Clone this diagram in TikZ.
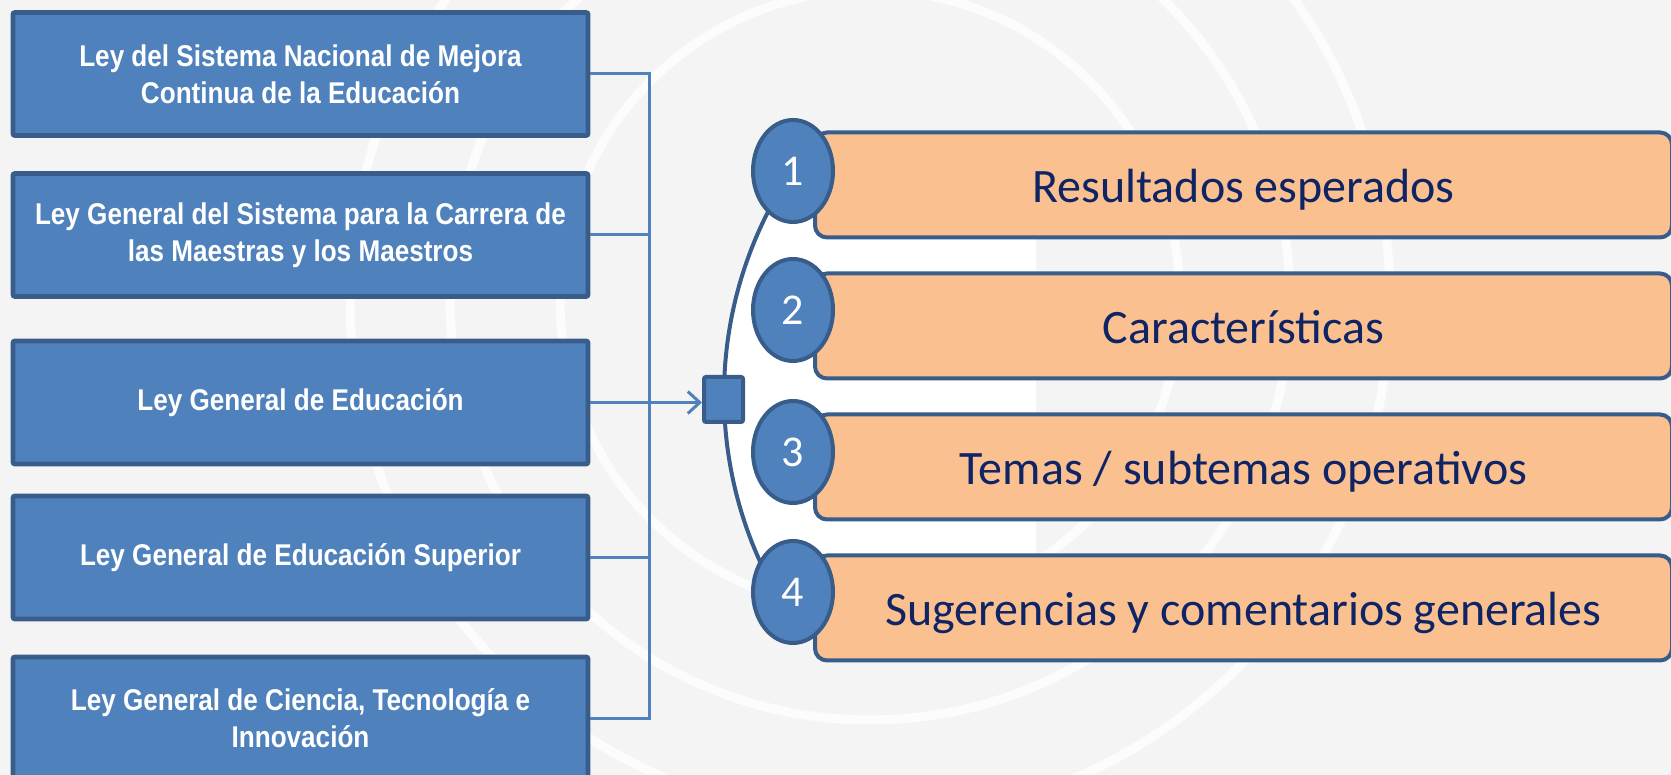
\documentclass[tikz,border=0pt]{standalone}
\usepackage{fontspec}
\setmainfont{Carlito}
\newfontfamily\lawfont[FakeStretch=0.87]{Liberation Sans}
\usepackage{tikz}
\usetikzlibrary{shapes.geometric,arrows.meta}
\definecolor{lawblue}{HTML}{4F81BD}
\definecolor{edgeblue}{HTML}{385D8A}
\definecolor{itemorange}{HTML}{FAC090}
\definecolor{itemtext}{HTML}{0F2464}
\definecolor{slidegray}{HTML}{F4F4F4}
\tikzstyle{lawbox} = [rectangle, font=\lawfont\bfseries\fontsize{15}{18.5}\selectfont, rounded corners=1pt, minimum width=287.5pt, minimum height=61.5pt, align=center, draw=edgeblue, line width=2.4pt, fill=lawblue, text=white]
\tikzstyle{itembox} = [rectangle, font=\fontsize{24}{28}\selectfont, rounded corners=6pt, minimum width=428.5pt, minimum height=52.5pt, text height=20pt, text depth=2pt, draw=edgeblue, line width=2pt, fill=itemorange, text=itemtext]
\tikzstyle{numdot} = [ellipse, font=\fontsize{22}{26}\selectfont, minimum width=40pt, minimum height=51pt, inner sep=0pt, draw=edgeblue, line width=2pt, fill=lawblue, text=white]
\tikzstyle{hubsquare} = [rectangle, rounded corners=1pt, minimum width=19.5pt, minimum height=22.5pt, inner sep=0pt, draw=edgeblue, line width=2pt, fill=lawblue]
\tikzstyle{link} = [draw=lawblue, line width=1.5pt]
\tikzstyle{arrow} = [link, -{Straight Barb[length=6pt,width=11pt]}]
\tikzstyle{bgring} = [draw=white, line width=4.5pt, opacity=0.75]
\tikzstyle{curve} = [draw=edgeblue, line width=2pt]

\begin{document}
\begin{tikzpicture}[x=0.5pt, y=0.5pt, node distance=80.5pt]
\clip (0,0) rectangle (1671,775);
\fill[slidegray] (0,0) rectangle (1671,775);
\coordinate (ringc) at (870,475);
\draw[bgring] (ringc) circle[radius=155pt];
\draw[bgring] (ringc) circle[radius=210pt];
\draw[bgring] (ringc) circle[radius=260pt];

\coordinate (arcc) at (1127,380);
\begin{scope}
\clip (arcc) circle[radius=201.5pt];
\fill[white] (700,190) rectangle (1036,570);
\end{scope}
\draw[curve] (arcc) ++(153:201.5pt) arc[start angle=153, end angle=207, radius=201.5pt];

\node (law1) [lawbox] at (300.5,701) {Ley del Sistema Nacional de Mejora\\Continua de la Educación};
\node (law2) [lawbox, below of=law1] {Ley General del Sistema para la Carrera de\\las Maestras y los Maestros};
\node (law3) [lawbox, below of=law2, yshift=-3.25pt] {Ley General de Educación};
\node (law4) [lawbox, below of=law3, yshift=3pt] {Ley General de Educación Superior};
\node (law5) [lawbox, below of=law4] {Ley General de Ciencia, Tecnología e\\Innovación};

\node (item1) [itembox] at (1243.5,590) {Resultados esperados};
\node (item2) [itembox, below of=item1, node distance=70.5pt] {Características};
\node (item3) [itembox, below of=item2, node distance=70.5pt] {Temas / subtemas operativos};
\node (item4) [itembox, below of=item3, node distance=70.5pt] {Sugerencias y comentarios generales};

\node (num1) [numdot] at ([xshift=-10pt, yshift=7pt]item1.west) {1};
\node (num2) [numdot] at ([xshift=-10pt, yshift=8pt]item2.west) {2};
\node (num3) [numdot] at ([xshift=-10pt, yshift=7.5pt]item3.west) {3};
\node (num4) [numdot] at ([xshift=-10pt, yshift=8pt]item4.west) {4};

\node (hub) [hubsquare] at (723.5,375.5) {};

\draw[link] (law1.east) -- ++(29.5pt,0) coordinate (bustop) |- (law5.east);
\draw[link] (law2.east) -- (law2.east -| bustop);
\draw[link] (law4.east) -- (law4.east -| bustop);
\draw[arrow] (law3.east) -- (law3.east -| hub.west);
\end{tikzpicture}
\end{document}
